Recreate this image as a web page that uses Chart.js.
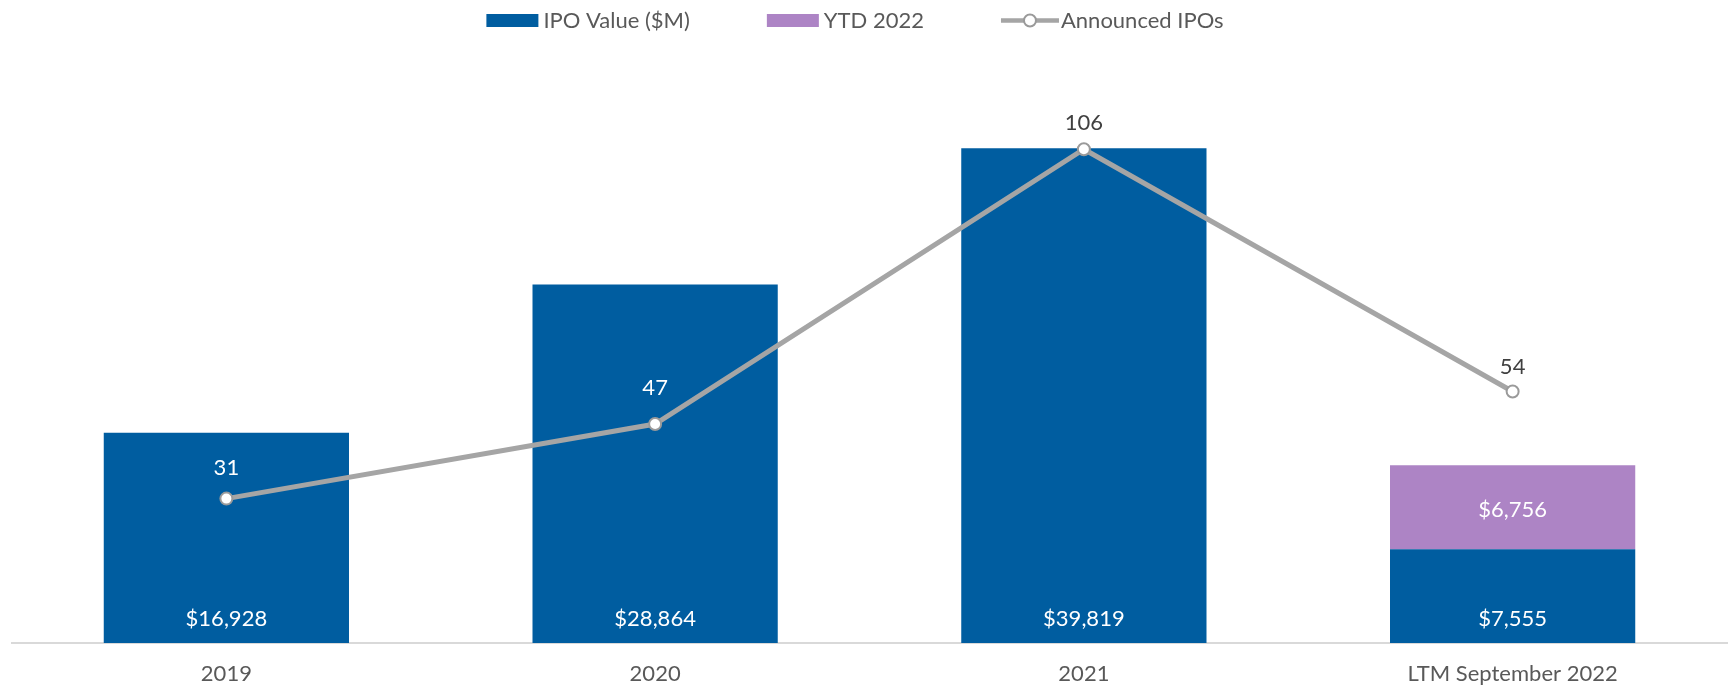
<!DOCTYPE html>
<html>
<head>
<meta charset="utf-8">
<script src="https://cdn.jsdelivr.net/npm/chart.js@4/dist/chart.umd.min.js"></script>
<style>
  html, body { margin: 0; padding: 0; background: #fff; }
  #wrap { width: 1735px; height: 689px; position: relative; }
</style>
</head>
<body>
<div id="wrap"><canvas id="ipoChart" width="1735" height="689"></canvas></div>
<script>
const categories = ["2019", "2020", "2021", "LTM September 2022"];
const ipoValue = [16928, 28864, 39819, 7555];
const ytd2022 = [null, null, null, 6756];
const announcedIpos = [31, 47, 106, 54];

const BLUE = "#005DA0";
const PURPLE = "#AD84C5";
const GREY = "#A5A5A5";
const TEXT = "#595959";

// how far above each point the count label sits, and its colour
const lineLabelOffset = [31, 36, 26, 25];
const lineLabelColor = ["#ffffff", "#ffffff", "#404040", "#404040"];

const money = (v) => "$" + v.toLocaleString("en-US");

// value labels on bars and line points
const valueLabels = {
  id: "valueLabels",
  afterDatasetsDraw(chart) {
    const ctx = chart.ctx;
    ctx.save();
    ctx.font = "22px Lato";
    ctx.textAlign = "center";
    ctx.textBaseline = "middle";

    chart.getDatasetMeta(0).data.forEach((bar, i) => {
      ctx.fillStyle = "#ffffff";
      ctx.fillText(money(ipoValue[i]), bar.x, bar.base - 24);
    });
    chart.getDatasetMeta(1).data.forEach((bar, i) => {
      if (ytd2022[i] == null) return;
      ctx.fillStyle = "#ffffff";
      ctx.fillText(money(ytd2022[i]), bar.x, (bar.y + bar.base) / 2 + 3);
    });
    chart.getDatasetMeta(2).data.forEach((pt, i) => {
      ctx.fillStyle = lineLabelColor[i];
      ctx.fillText(String(announcedIpos[i]), pt.x, pt.y - lineLabelOffset[i]);
    });
    ctx.restore();
  },
};

// legend drawn at the top, line entry gets a line + circle marker
const topLegend = {
  id: "topLegend",
  afterDraw(chart) {
    const ctx = chart.ctx;
    ctx.save();
    ctx.font = "22px Lato";
    ctx.textBaseline = "middle";
    const items = chart.data.datasets.map((ds) => ({
      text: ds.label,
      kind: ds.type === "line" ? "line" : "box",
      color: ds.type === "line" ? ds.borderColor : ds.backgroundColor,
      mark: ds.type === "line" ? 58 : 52,
      gap: ds.type === "line" ? 2 : 5,
    }));
    const gapItem = 77;
    let total = 0;
    items.forEach((it, i) => {
      it.w = ctx.measureText(it.text).width;
      total += it.mark + it.gap + it.w + (i < items.length - 1 ? gapItem : 0);
    });
    let x = 855 - total / 2;
    const y = 20.5;
    items.forEach((it) => {
      if (it.kind === "box") {
        ctx.fillStyle = it.color;
        ctx.fillRect(x, y - 6.5, it.mark, 13);
      } else {
        ctx.strokeStyle = it.color;
        ctx.lineWidth = 4.5;
        ctx.beginPath();
        ctx.moveTo(x, y);
        ctx.lineTo(x + it.mark, y);
        ctx.stroke();
        ctx.beginPath();
        ctx.arc(x + it.mark / 2, y, 6, 0, Math.PI * 2);
        ctx.fillStyle = "#ffffff";
        ctx.fill();
        ctx.lineWidth = 2;
        ctx.strokeStyle = "#9A9A9A";
        ctx.stroke();
      }
      x += it.mark + it.gap;
      ctx.fillStyle = TEXT;
      ctx.textAlign = "left";
      ctx.fillText(it.text, x, y);
      x += it.w + gapItem;
    });
    ctx.restore();
  },
};

const ctx = document.getElementById("ipoChart").getContext("2d");
new Chart(ctx, {
  type: "bar",
  data: {
    labels: categories,
    datasets: [
      {
        label: "IPO Value ($M)",
        data: ipoValue,
        backgroundColor: BLUE,
        yAxisID: "y",
        stack: "value",
        order: 2,
        barPercentage: 0.572,
        categoryPercentage: 1,
      },
      {
        label: "YTD 2022",
        data: ytd2022,
        backgroundColor: PURPLE,
        yAxisID: "y",
        stack: "value",
        order: 3,
        barPercentage: 0.572,
        categoryPercentage: 1,
      },
      {
        type: "line",
        label: "Announced IPOs",
        data: announcedIpos,
        borderColor: GREY,
        borderWidth: 5,
        pointRadius: 6,
        pointHoverRadius: 6,
        pointBorderWidth: 2,
        pointBackgroundColor: "#ffffff",
        pointBorderColor: "#9A9A9A",
        yAxisID: "y1",
        order: 0,
        tension: 0,
      },
    ],
  },
  options: {
    responsive: false,
    animation: false,
    devicePixelRatio: 1,
    layout: { padding: { top: 84, left: 12, right: 5, bottom: 0 } },
    plugins: {
      legend: { display: false },
      tooltip: { enabled: false },
    },
    scales: {
      x: {
        stacked: true,
        grid: { display: false, drawTicks: false },
        border: { display: true, color: "#D9D9D9", width: 2 },
        ticks: { color: TEXT, font: { family: "Lato", size: 22 }, padding: 18 },
        afterFit: (scale) => {
          scale.height = 46;
        },
      },
      y: {
        stacked: true,
        display: false,
        min: 0,
        max: 45000,
      },
      y1: {
        display: false,
        position: "right",
        min: 0,
        max: 120,
      },
    },
  },
  plugins: [valueLabels, topLegend],
});
</script>
</body>
</html>
